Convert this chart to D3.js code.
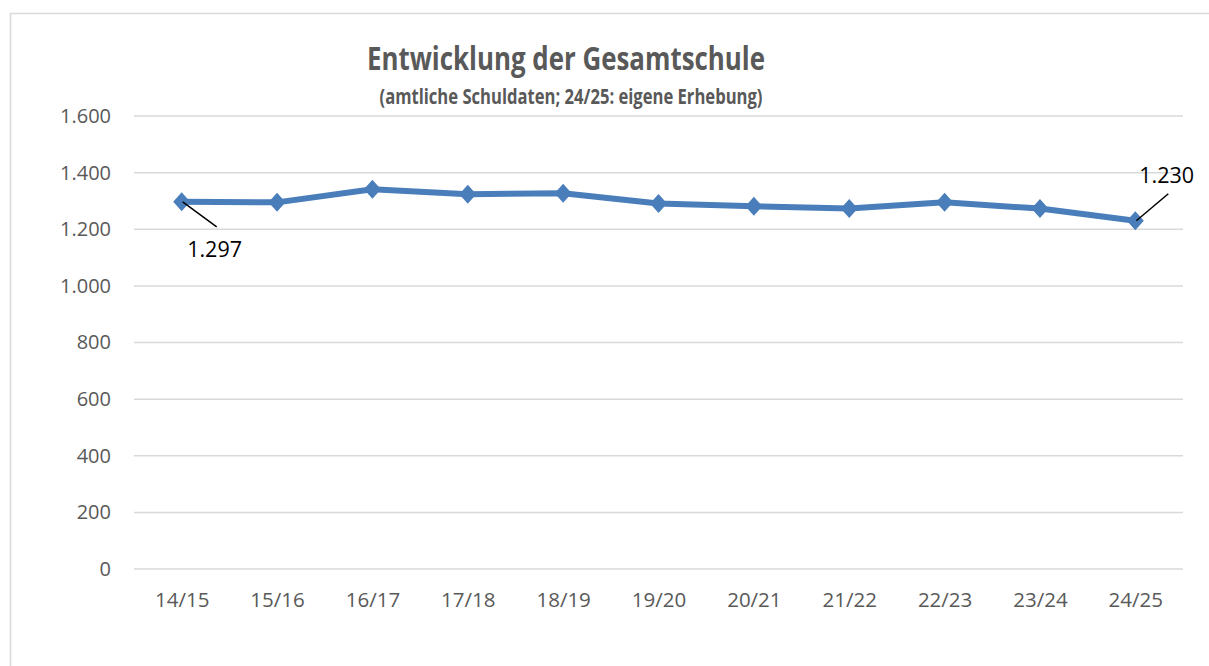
<!DOCTYPE html>
<html>
<head>
<meta charset="utf-8">
<script src="https://cdn.jsdelivr.net/npm/d3@7"></script>
<style>
  body { margin: 0; background: #fff; }
  text { font-family: "Open Sans", "Noto Sans", sans-serif; }
</style>
</head>
<body>
<div class="chart"></div>
<script>
const width = 1209
const height = 666

// data
const years = ['14/15', '15/16', '16/17', '17/18', '18/19', '19/20', '20/21', '21/22', '22/23', '23/24', '24/25']
const pupils = [1297, 1295, 1341, 1324, 1327, 1291, 1281, 1273, 1295, 1273, 1230]
const yTicks = [0, 200, 400, 600, 800, 1000, 1200, 1400, 1600]
const labelled = ['14/15', '24/25']

const fmt = v => d3.format(',')(v).replace(/,/g, '.')

const svg = d3.select('.chart').append('svg')
    .attr('width', width)
    .attr('height', height)

// chart frame
svg.append('rect')
    .attr('x', 10.5).attr('y', 13.5)
    .attr('width', 1300).attr('height', 700)
    .attr('fill', 'none')
    .attr('stroke', '#d9d9d9')
    .attr('stroke-width', 1.5)

const x = d3.scalePoint()
    .domain(years)
    .range([134, 1183])
    .padding(0.5)

const y = d3.scaleLinear()
    .domain([0, 1600])
    .range([569, 116])

// gridlines
svg.append('g')
  .selectAll('line')
    .data(yTicks)
  .enter().append('line')
    .attr('x1', 134).attr('x2', 1183)
    .attr('y1', d => y(d)).attr('y2', d => y(d))
    .attr('stroke', '#d9d9d9')
    .attr('stroke-width', 1.5)

// y axis labels
const yAxis = svg.append('g')
    .attr('transform', 'translate(111,0)')
    .call(d3.axisLeft(y).tickValues(yTicks).tickFormat(fmt).tickSize(0).tickPadding(0))
yAxis.select('.domain').remove()
yAxis.selectAll('text')
    .attr('fill', '#595959')
    .style('font-size', '20px')
    .style('font-family', '"Open Sans", sans-serif')

// x axis labels
const xAxis = svg.append('g')
    .attr('transform', 'translate(0,569)')
    .call(d3.axisBottom(x).tickSize(0).tickPadding(0))
xAxis.select('.domain').remove()
xAxis.selectAll('text')
    .attr('dy', null)
    .attr('y', 38)
    .attr('fill', '#595959')
    .style('font-size', '20.5px')
    .style('font-family', '"Open Sans", sans-serif')

// line
const line = d3.line()
    .x((d, i) => x(years[i]))
    .y(d => y(d))

svg.append('path')
    .datum(pupils)
    .attr('d', line)
    .attr('fill', 'none')
    .attr('stroke', '#4a7ebb')
    .attr('stroke-width', 6)
    .attr('stroke-linejoin', 'round')

// diamond markers
svg.append('g')
  .selectAll('path')
    .data(pupils)
  .enter().append('path')
    .attr('transform', (d, i) => 'translate(' + x(years[i]) + ',' + y(d) + ')')
    .attr('d', 'M0,-9.5L8.5,0L0,9.5L-8.5,0Z')
    .attr('fill', '#4a7ebb')

// data labels with leader lines
const labelPos = {
  '14/15': { dx: 35, dy: 25, tx: 5.5, ty: 55, anchor: 'start' },
  '24/25': { dx: 33, dy: -27, tx: 4, ty: -38, anchor: 'start' }
}

labelled.forEach(function(yr) {
  const i = years.indexOf(yr)
  const px = x(yr)
  const py = y(pupils[i])
  const p = labelPos[yr]
  svg.append('line')
      .attr('x1', px + 1).attr('y1', py)
      .attr('x2', px + p.dx).attr('y2', py + p.dy)
      .attr('stroke', '#000')
      .attr('stroke-width', 1.5)
  svg.append('text')
      .attr('x', px + p.tx)
      .attr('y', py + p.ty)
      .attr('text-anchor', p.anchor)
      .style('font-size', '21.5px')
      .attr('fill', '#000')
      .text(fmt(pupils[i]))
})

// titles
svg.append('text')
    .attr('x', 566).attr('y', 70)
    .attr('text-anchor', 'middle')
    .attr('fill', '#595959')
    .attr('textLength', 398)
    .attr('lengthAdjust', 'spacingAndGlyphs')
    .style('font-size', '33px')
    .style('font-weight', 'bold')
    .text('Entwicklung der Gesamtschule')

svg.append('text')
    .attr('x', 571).attr('y', 104)
    .attr('text-anchor', 'middle')
    .attr('fill', '#595959')
    .attr('textLength', 383)
    .attr('lengthAdjust', 'spacingAndGlyphs')
    .style('font-size', '21px')
    .style('font-weight', 'bold')
    .text('(amtliche Schuldaten; 24/25: eigene Erhebung)')
</script>
</body>
</html>
